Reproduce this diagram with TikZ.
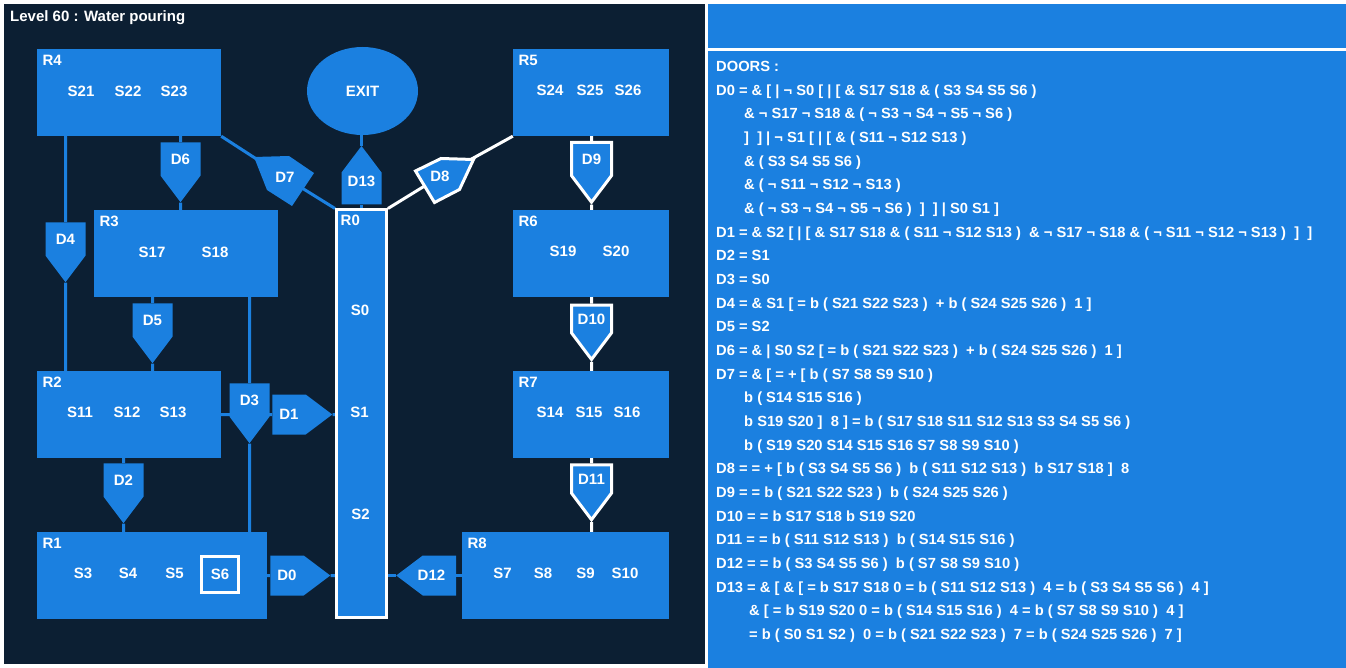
\documentclass[tikz,border=0pt]{standalone}
\usepackage{fontspec}
\setmainfont{Liberation Sans}
\usetikzlibrary{shapes.geometric,shapes.symbols,positioning,backgrounds}
\definecolor{roomblue}{HTML}{1B80E0}
\definecolor{nightblue}{HTML}{0C1F33}

\begin{document}
\begin{tikzpicture}[x=1pt,y=-1pt,
  every node/.style={font=\fontsize{15}{18}\selectfont\bfseries, text=white, inner sep=0pt},
  room/.style={fill=roomblue, minimum width=#1, minimum height=87pt},
  roomname/.style={anchor=base west, xshift=5.5pt, yshift=-17pt},
  door/.style={shape=signal, signal to=#1, signal pointer angle=74, fill=roomblue},
  vdoor/.style={door=#1, minimum width=40pt, minimum height=46pt},
  hdoor/.style={door=#1, minimum width=60pt, minimum height=40pt},
  lit/.style={draw=white, line width=3pt},
  link/.style={draw=roomblue, line width=3pt},
  wlink/.style={draw=white, line width=3pt},
  rule/.style={anchor=base west, font=\fontsize{14.7}{18}\selectfont\bfseries},
]
\useasboundingbox (0,0) rectangle (1346,668);
\begin{scope}[on background layer]
\fill[white] (0,0) rectangle (1346,668);
\fill[nightblue] (4,4) rectangle (705,664);
\fill[roomblue] (708,4) rectangle (1346,48);
\fill[roomblue] (708,51) rectangle (1346,668);
\end{scope}
\node[anchor=base west] (title) at (10,21.7) {Level 60 : Water pouring};

% rooms
\node[room=184pt, label={[roomname]north west:R4}] (R4) at (129,92.5) {};
\node[room=156pt, label={[roomname]north west:R5}] (R5) at (591,92.5) {};
\node[room=184pt, label={[roomname]north west:R3}] (R3) at (186,253.5) {};
\node[room=156pt, label={[roomname]north west:R6}] (R6) at (591,253.5) {};
\node[room=184pt, label={[roomname]north west:R2}] (R2) at (129,414.5) {};
\node[room=156pt, label={[roomname]north west:R7}] (R7) at (591,414.5) {};
\node[room=230pt, label={[roomname]north west:R1}] (R1) at (152,575.5) {};
\node[room=207pt, label={[roomname]north west:R8}] (R8) at (565.5,575.5) {};
\node[room=50pt, minimum height=407pt, lit, label={[roomname]north west:R0}] (R0) at (361.5,413.5) {};
\node[ellipse, fill=roomblue, minimum width=111pt, minimum height=88pt] (EXIT) at (362.5,91) {EXIT};

% stones
\node (S21) at (81,91) {S21};
\node (S22) at (128,91) {S22};
\node (S23) at (174,91) {S23};
\node (S24) at (550,90.5) {S24};
\node (S25) at (590,90.5) {S25};
\node (S26) at (628,90.5) {S26};
\node (S17) at (152,252) {S17};
\node (S18) at (215,252) {S18};
\node (S19) at (563,251.5) {S19};
\node (S20) at (616,251.5) {S20};
\node (S11) at (80,412.5) {S11};
\node (S12) at (127,412.5) {S12};
\node (S13) at (173,412.5) {S13};
\node (S14) at (550,412.5) {S14};
\node (S15) at (589,412.5) {S15};
\node (S16) at (627,412.5) {S16};
\node (S3) at (83,573) {S3};
\node (S4) at (128,573) {S4};
\node (S5) at (174.5,573) {S5};
\node[lit, minimum width=37pt, minimum height=36pt] (S6) at (220,574.5) {S6};
\node (S7) at (502.5,573) {S7};
\node (S8) at (543,573) {S8};
\node (S9) at (585.5,573) {S9};
\node (S10) at (625,573) {S10};
\node (S0) at (360,310) {S0};
\node (S1) at (359.5,412.5) {S1};
\node (S2) at (360.5,514.5) {S2};

% doors
\node[vdoor=south] (D4) at (65.5,239) {D4};
\node[vdoor=south] (D5) at (152.5,320) {D5};
\node[vdoor=south] (D6) at (180.5,159) {D6};
\node[vdoor=south] (D2) at (123.5,480) {D2};
\node[vdoor=south] (D3) at (249.5,400) {D3};
\node[vdoor=south, lit] (D9) at (591.5,159) {D9};
\node[vdoor=south, lit] (D10) at (591.5,319) {D10};
\node[vdoor=south, lit] (D11) at (591.5,479) {D11};
\node[hdoor=east] (D1) at (289,414.5) {D1};
\node[hdoor=east] (D0) at (287,575.5) {D0};
\node[hdoor=west, label={[xshift=-8pt]center:D12}] (D12) at (439.5,575.5) {};
\node[vdoor=north, minimum height=32pt, label={[yshift=7pt]center:D13}] (D13) at (361.5,188.5) {};
\fill[roomblue] (254,157) -- (289,156) -- (314,173) -- (292,206) -- (267,190) -- cycle;
\node (D7) at (285,177.5) {D7};
\filldraw[fill=roomblue, lit] (415.5,171) -- (441,158.5) -- (473.5,159.5) -- (459.5,189.5) -- (434.5,202.5) -- cycle;
\node (D8) at (440,176.5) {D8};

\begin{scope}[on background layer]
\draw[link] (R4.south -| D4) -- (D4) -- (R2.north -| D4);
\draw[link] (R3.south -| D5) -- (D5) -- (R2.north -| D5);
\draw[link] (R4.south -| D6) -- (D6) -- (R3.north -| D6);
\draw[link] (R2.south -| D2) -- (D2) -- (R1.north -| D2);
\draw[link] (R3.south -| D3) -- (D3) -- (R1.north -| D3);
\draw[link] (R2.east |- D1) -- (D1) -- (R0.west |- D1);
\draw[link] (R1.east |- D0) -- (D0) -- (R0.west |- D0);
\draw[link] (R8.west |- D12) -- (D12) -- (R0.east |- D12);
\draw[link] (R0.north -| D13) -- (D13) -- (EXIT.south -| D13);
\draw[link] (R4.south east) -- (D7) -- (R0.north west);
\draw[wlink] (R0.north east) -- (D8) -- (R5.south west);
\draw[wlink] (R5.south -| D9) -- (D9) -- (R6.north -| D9);
\draw[wlink] (R6.south -| D10) -- (D10) -- (R7.north -| D10);
\draw[wlink] (R7.south -| D11) -- (D11) -- (R8.north -| D11);
\end{scope}

% door rules
\node[rule] (hdr) at (716,71.5) {DOORS :};
\node[rule] (eqD0) at (716,95.2) {D0 = \& [ | ¬ S0 [ | [ \& S17 S18 \& ( S3 S4 S5 S6 )};
\node[rule] (eqD0b) at (744,118.8) {\& ¬ S17 ¬ S18 \& ( ¬ S3 ¬ S4 ¬ S5 ¬ S6 )};
\node[rule] (eqD0c) at (744,142.5) {]~ ] | ¬ S1 [ | [ \& ( S11 ¬ S12 S13 )};
\node[rule] (eqD0d) at (744,166.2) {\& ( S3 S4 S5 S6 )};
\node[rule] (eqD0e) at (744,189.9) {\& ( ¬ S11 ¬ S12 ¬ S13 )};
\node[rule] (eqD0f) at (744,213.5) {\& ( ¬ S3 ¬ S4 ¬ S5 ¬ S6 )~ ]~ ] | S0 S1 ]};
\node[rule] (eqD1) at (716,237.2) {D1 = \& S2 [ | [ \& S17 S18 \& ( S11 ¬ S12 S13 )~ \& ¬ S17 ¬ S18 \& ( ¬ S11 ¬ S12 ¬ S13 )~ ]~ ]};
\node[rule] (eqD2) at (716,260.9) {D2 = S1};
\node[rule] (eqD3) at (716,284.5) {D3 = S0};
\node[rule] (eqD4) at (716,308.2) {D4 = \& S1 [ = b ( S21 S22 S23 )~ + b ( S24 S25 S26 )~ 1 ]};
\node[rule] (eqD5) at (716,331.9) {D5 = S2};
\node[rule] (eqD6) at (716,355.5) {D6 = \& | S0 S2 [ = b ( S21 S22 S23 )~ + b ( S24 S25 S26 )~ 1 ]};
\node[rule] (eqD7) at (716,379.2) {D7 = \& [ = + [ b ( S7 S8 S9 S10 )};
\node[rule] (eqD7b) at (744,402.9) {b ( S14 S15 S16 )};
\node[rule] (eqD7c) at (744,426.5) {b S19 S20 ]~ 8 ] = b ( S17 S18 S11 S12 S13 S3 S4 S5 S6 )};
\node[rule] (eqD7d) at (744,450.2) {b ( S19 S20 S14 S15 S16 S7 S8 S9 S10 )};
\node[rule] (eqD8) at (716,473.9) {D8 = = + [ b ( S3 S4 S5 S6 )~ b ( S11 S12 S13 )~ b S17 S18 ]~ 8};
\node[rule] (eqD9) at (716,497.5) {D9 = = b ( S21 S22 S23 )~ b ( S24 S25 S26 )};
\node[rule] (eqD10) at (716,521.2) {D10 = = b S17 S18 b S19 S20};
\node[rule] (eqD11) at (716,544.9) {D11 = = b ( S11 S12 S13 )~ b ( S14 S15 S16 )};
\node[rule] (eqD12) at (716,568.5) {D12 = = b ( S3 S4 S5 S6 )~ b ( S7 S8 S9 S10 )};
\node[rule] (eqD13) at (716,592.2) {D13 = \& [ \& [ = b S17 S18 0 = b ( S11 S12 S13 )~ 4 = b ( S3 S4 S5 S6 )~ 4 ]};
\node[rule] (eqD13b) at (749,615.9) {\& [ = b S19 S20 0 = b ( S14 S15 S16 )~ 4 = b ( S7 S8 S9 S10 )~ 4 ]};
\node[rule] (eqD13c) at (749,639.5) {= b ( S0 S1 S2 )~ 0 = b ( S21 S22 S23 )~ 7 = b ( S24 S25 S26 )~ 7 ]};
\end{tikzpicture}
\end{document}
